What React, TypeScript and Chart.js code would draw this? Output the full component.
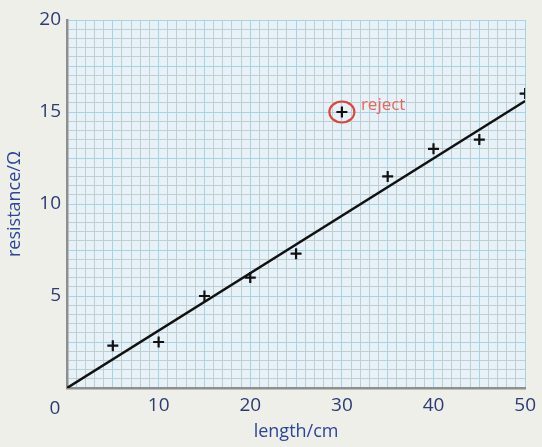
import React, { useEffect, useRef } from "react";
import { Chart, registerables } from "chart.js";

Chart.register(...registerables);

const lengths = [5, 10, 15, 20, 25, 30, 35, 40, 45, 50];
const resistances = [2.3, 2.5, 5.0, 6.0, 7.3, 15.0, 11.5, 13.0, 13.5, 16.0];
const rejectIndex = 5;
const fitX = [0, 50];
const fitY = [0, 15.6];
const xLabelTicks = [0, 10, 20, 30, 40, 50];
const yLabelTicks = [5, 10, 15, 20];

const FONT = "'Open Sans', 'Noto Sans', sans-serif";

export default function App() {
  const ref = useRef<HTMLCanvasElement | null>(null);

  useEffect(() => {
    document.body.style.margin = "0";
    document.body.style.background = "#efefea";
    const canvas = ref.current!;
    const bgPlugin = {
      id: "bg",
      beforeDraw(chart: any) {
        const { ctx, chartArea } = chart;
        ctx.save();
        ctx.fillStyle = "#efefea";
        ctx.fillRect(0, 0, chart.width, chart.height);
        ctx.fillStyle = "#e6f2f7";
        ctx.fillRect(chartArea.left, chartArea.top, chartArea.right - chartArea.left, chartArea.bottom - chartArea.top);
        ctx.restore();
      },
      afterDatasetsDraw(chart: any) {
        const { ctx } = chart;
        const xs = chart.scales.x;
        const ys = chart.scales.y;
        const px = xs.getPixelForValue(lengths[rejectIndex]);
        const py = ys.getPixelForValue(resistances[rejectIndex]);
        ctx.save();
        ctx.strokeStyle = "#e0453b";
        ctx.lineWidth = 2.2;
        ctx.beginPath();
        ctx.ellipse(px, py, 12.5, 10.5, 0, 0, Math.PI * 2);
        ctx.stroke();
        ctx.fillStyle = "#e8675c";
        ctx.font = `17px ${FONT}`;
        ctx.textBaseline = "middle";
        ctx.textAlign = "left";
        ctx.fillText("reject", px + 19, py - 7);
        // origin "0" label shared by both axes
        ctx.fillStyle = "#2c3b72";
        ctx.textAlign = "center";
        ctx.font = `19px ${FONT}`;
        ctx.fillText("0", xs.getPixelForValue(0) - 12, ys.getPixelForValue(0) + 21);
        ctx.restore();
      },
    };

    const chart = new Chart(canvas, {
      type: "scatter",
      data: {
        datasets: [
          {
            type: "line",
            data: fitX.map((x, i) => ({ x, y: fitY[i] })),
            borderColor: "#111111",
            borderWidth: 2.5,
            pointRadius: 0,
            fill: false,
          } as any,
          {
            data: lengths.map((x, i) => ({ x, y: resistances[i] })),
            pointStyle: "cross",
            pointRadius: 5.5,
            borderColor: "#111111",
            backgroundColor: "#111111",
            pointBorderWidth: 2.2,
          } as any,
        ],
      },
      options: {
        animation: false,
        responsive: false,
        layout: { padding: { top: 20, right: 13, left: 0, bottom: 0 } },
        plugins: { legend: { display: false }, tooltip: { enabled: false } },
        scales: {
          x: {
            type: "linear",
            min: 0,
            max: 50,
            afterFit(scale: any) {
              scale.height = 59;
            },
            ticks: {
              stepSize: 1,
              autoSkip: false,
              maxRotation: 0,
              color: "#2c3b72",
              font: { family: FONT, size: 19 },
              padding: 6,
              callback: (v: any) => (xLabelTicks.includes(v) && v !== 0 ? String(v) : ""),
            },
            grid: {
              drawTicks: false,
              color: (c: any) => (c.tick && Math.round(c.tick.value) % 5 === 0 ? "#a6d4e6" : "#c0cdd1"),
              lineWidth: 1,
            },
            border: { color: "#8d8f8f", width: 2.5 },
            title: {
              display: true,
              text: "length/cm",
              color: "#2a4699",
              font: { family: FONT, size: 18 },
              padding: { top: 4 },
            },
          },
          y: {
            type: "linear",
            min: 0,
            max: 20,
            afterFit(scale: any) {
              scale.width = 67;
            },
            ticks: {
              stepSize: 0.5,
              autoSkip: false,
              color: "#2c3b72",
              font: { family: FONT, size: 19 },
              padding: 6,
              callback: (v: any) => (yLabelTicks.includes(v) ? String(v) : ""),
            },
            grid: {
              drawTicks: false,
              color: (c: any) => (c.tick && Math.round(c.tick.value * 2) % 5 === 0 ? "#a6d4e6" : "#c0cdd1"),
              lineWidth: 1,
            },
            border: { color: "#8d8f8f", width: 2.5 },
            title: {
              display: true,
              text: "resistance/Ω",
              color: "#2a4699",
              font: { family: FONT, size: 18 },
              padding: { bottom: 0 },
            },
          },
        },
      },
      plugins: [bgPlugin],
    });
    return () => chart.destroy();
  }, []);

  return <canvas ref={ref} width={542} height={447} style={{ display: "block" }} />;
}
